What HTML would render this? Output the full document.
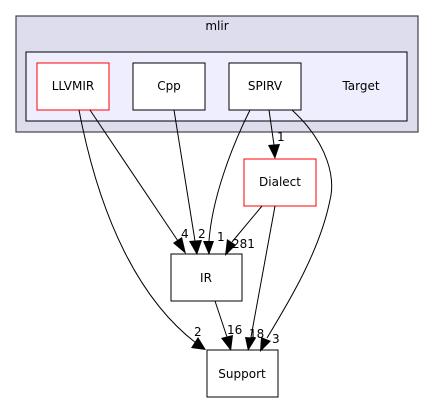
<!DOCTYPE html>
<html><head><style>body{margin:0;background:#fff}</style></head><body>
<svg width="435" height="404" xmlns="http://www.w3.org/2000/svg" font-family="'DejaVu Sans','Liberation Sans',sans-serif" font-size="12">
<rect x="16" y="16" width="402" height="116" fill="#ddddee" stroke="#444" stroke-width="1.2"/>
<text x="217" y="30" text-anchor="middle" font-size="12">mlir</text>
<rect x="26" y="52" width="381" height="69" fill="#eeeeff" stroke="#000" stroke-width="1"/>
<text x="361" y="90" text-anchor="middle" font-size="12">Target</text>
<g stroke-width="1">
<rect x="37" y="63" width="72" height="47" fill="#fff" stroke="#ff0000"/>
<rect x="133" y="63" width="72" height="47" fill="#fff" stroke="#000"/>
<rect x="229" y="63" width="72" height="47" fill="#fff" stroke="#000"/>
<rect x="244" y="159" width="72" height="47" fill="#fff" stroke="#ff0000"/>
<rect x="171" y="254" width="71" height="47" fill="#fff" stroke="#000"/>
<rect x="207" y="350" width="71" height="47" fill="#fff" stroke="#000"/>
</g>
<g text-anchor="middle" font-size="12">
<text x="73" y="90">LLVMIR</text>
<text x="169" y="90">Cpp</text>
<text x="265" y="90">SPIRV</text>
<text x="280" y="186">Dialect</text>
<text x="206" y="282">IR</text>
<text x="242" y="378">Support</text>
</g>
<g fill="none" stroke="#000" stroke-width="1">
<path d="M90,110 L178,241"/>
<path d="M174,110 L195,241"/>
<path d="M250,110 C230,150 212,200 209,241"/>
<path d="M262,206 L232,242"/>
<path d="M79,110 C100,220 140,300 196,343"/>
<path d="M269,110 L274,145"/>
<path d="M275,206 L251,337"/>
<path d="M215,301 L227,337"/>
<path d="M292,110 C330,145 335,180 330,200 C320,250 290,300 267,338"/>
</g>
<g fill="#000">
<polygon points="173,243 186,254 182,237"/>
<polygon points="189,241 197,255 202,240"/>
<polygon points="203,241 209,255 214,241"/>
<polygon points="227,239 225,256 236,245"/>
<polygon points="191,348 206,350 198,337"/>
<polygon points="268,145 275,159 280,144"/>
<polygon points="245,337 248,351 256,338"/>
<polygon points="221,338 231,351 233,335"/>
<polygon points="261,337 260,352 271,341"/>
</g>
<g font-size="12">
<text x="181" y="238">4</text>
<text x="198" y="238">2</text>
<text x="217" y="241">1</text>
<text x="232" y="248">281</text>
<text x="277" y="141">1</text>
<text x="194" y="336">2</text>
<text x="227" y="334">16</text>
<text x="249" y="338">18</text>
<text x="272" y="343">3</text>
</g>
</svg>
</body></html>
